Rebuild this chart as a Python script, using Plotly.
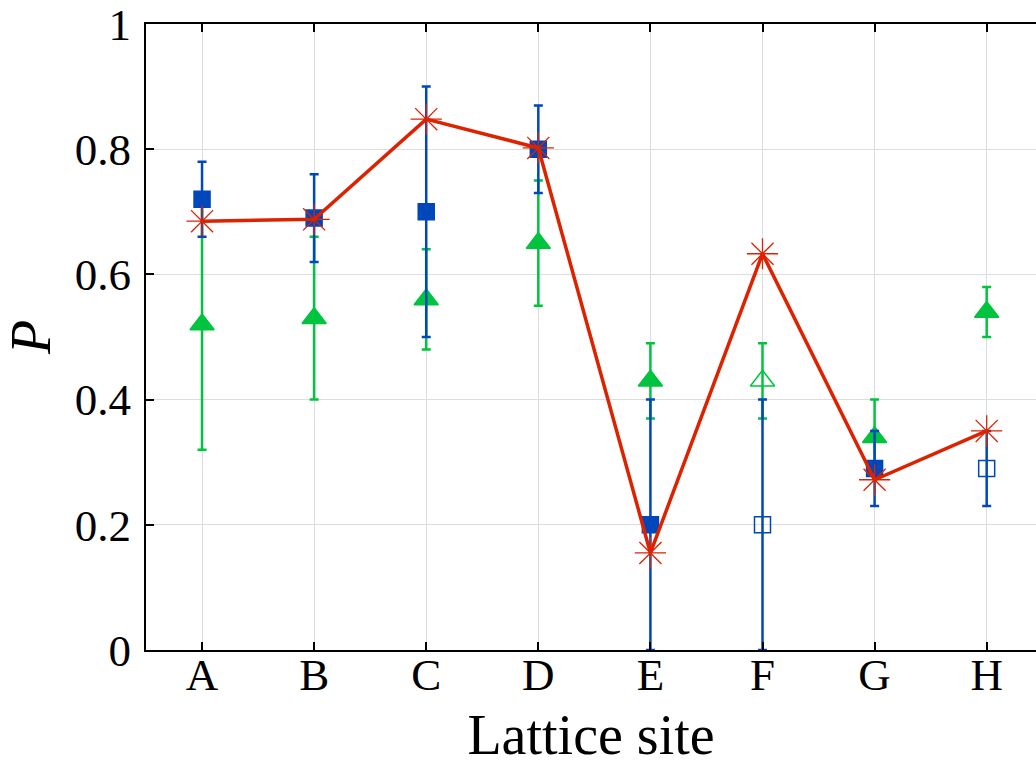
import plotly.graph_objects as go

sites = ["A", "B", "C", "D", "E", "F", "G", "H"]

blue_vals = [0.72, 0.69, 0.70, 0.80, 0.20, 0.20, 0.29, 0.29]
blue_err_plus = [0.06, 0.07, 0.20, 0.07, 0.20, 0.20, 0.06, 0.06]
blue_err_minus = [0.06, 0.07, 0.20, 0.07, 0.20, 0.20, 0.06, 0.06]
blue_open = [False, False, False, False, False, True, False, True]

green_vals = [0.52, 0.53, 0.56, 0.65, 0.43, 0.43, 0.34, 0.54]
green_err = [0.20, 0.13, 0.08, 0.10, 0.06, 0.06, 0.06, 0.04]
green_open = [False, False, False, False, False, True, False, False]

red_vals = [0.685, 0.688, 0.848, 0.802, 0.155, 0.633, 0.272, 0.350]

y_ticks = [0, 0.2, 0.4, 0.6, 0.8, 1]
y_ticktext = ["0", "0.2", "0.4", "0.6", "0.8", "1"]

BLUE = "#0047BB"
GREEN = "#00C43F"
RED = "#DD2200"
SERIF = "Liberation Serif"

fig = go.Figure()

fig.add_trace(go.Scatter(
    x=sites, y=green_vals, mode="markers",
    marker=dict(symbol=["triangle-up-open" if o else "triangle-up" for o in green_open],
                size=21, color=GREEN, line=dict(color=GREEN, width=1.5)),
    error_y=dict(type="data", array=green_err, color=GREEN, thickness=2.5, width=4.5),
    showlegend=False,
))

fig.add_trace(go.Scatter(
    x=sites, y=blue_vals, mode="markers",
    marker=dict(symbol=["square-open" if o else "square" for o in blue_open],
                size=16, color=BLUE, line=dict(color=BLUE, width=1.5)),
    error_y=dict(type="data", array=blue_err_plus, arrayminus=blue_err_minus,
                 color=BLUE, thickness=2.5, width=4.5),
    showlegend=False,
))

fig.add_trace(go.Scatter(
    x=sites, y=red_vals, mode="lines+markers",
    line=dict(color=RED, width=3.5),
    marker=dict(symbol="asterisk-open", size=26, color=RED, line=dict(color=RED, width=1.3)),
    showlegend=False,
))

fig.update_layout(
    width=1036, height=766,
    margin=dict(l=146, r=0, t=24, b=116),
    paper_bgcolor="white", plot_bgcolor="white",
    font=dict(family=SERIF, color="black", size=45),
)

fig.update_xaxes(
    type="category", range=[-0.5, 7.44],
    showline=True, linecolor="black", linewidth=2, mirror="ticks",
    ticks="inside", ticklen=8, tickwidth=2, tickcolor="black",
    showgrid=True, gridcolor="#DDDDDD", gridwidth=1,
    tickfont=dict(family=SERIF, size=45), ticklabelstandoff=-16,
    title=dict(text="Lattice site", font=dict(family=SERIF, size=56), standoff=26),
    zeroline=False,
)

fig.update_yaxes(
    range=[0, 1], tickvals=y_ticks, ticktext=y_ticktext,
    showline=True, linecolor="black", linewidth=2,
    ticks="inside", ticklen=8, tickwidth=2, tickcolor="black",
    showgrid=True, gridcolor="#DDDDDD", gridwidth=1,
    tickfont=dict(family=SERIF, size=45), ticklabelstandoff=4,
    ticklabeloverflow="allow",
    title=dict(text="<i>P</i>", font=dict(family=SERIF, size=56), standoff=18),
    zeroline=False,
)

fig.write_html("out.html")
